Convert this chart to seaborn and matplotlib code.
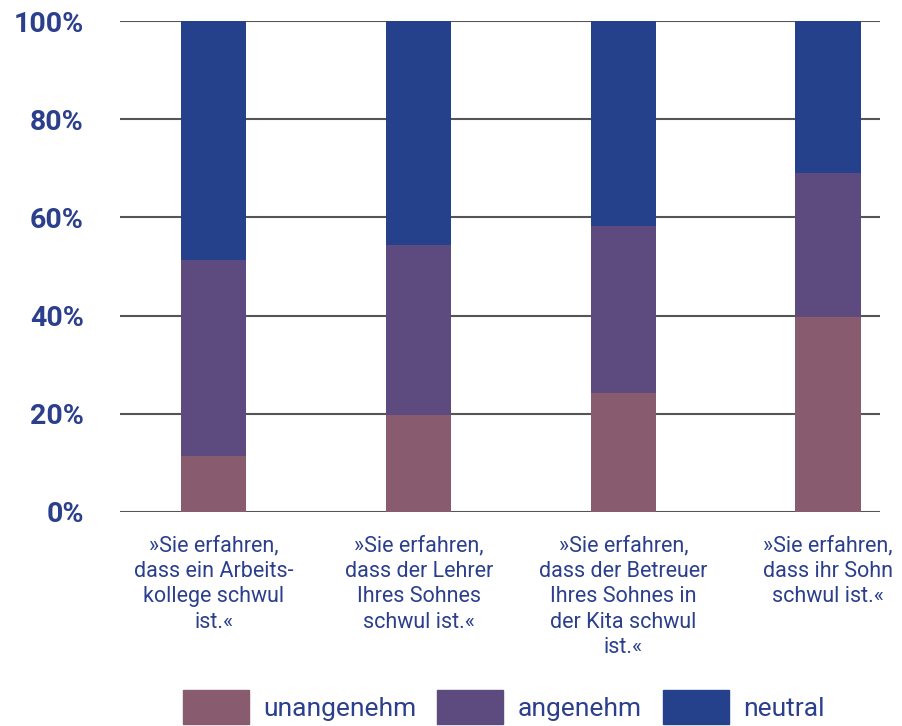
import matplotlib.pyplot as plt
import numpy as np
import pandas as pd
import seaborn as sns
from matplotlib.patches import Patch

kategorien = [
    "»Sie erfahren,\ndass ein Arbeits-\nkollege schwul\nist.«",
    "»Sie erfahren,\ndass der Lehrer\nIhres Sohnes\nschwul ist.«",
    "»Sie erfahren,\ndass der Betreuer\nIhres Sohnes in\nder Kita schwul\nist.«",
    "»Sie erfahren,\ndass ihr Sohn\nschwul ist.«",
]
unangenehm = [11.4, 19.7, 24.2, 39.8]
angenehm = [39.9, 34.7, 34.0, 29.2]
neutral = [48.7, 45.6, 41.8, 31.0]
y_ticks = [0, 20, 40, 60, 80, 100]

farben = {"unangenehm": "#895b6f", "angenehm": "#5d4a7f", "neutral": "#26418b"}
text_farbe = "#2b3f8c"

sns.set_style("white")
plt.rcParams["font.family"] = ["Roboto", "DejaVu Sans"]

df = pd.DataFrame({"kat": kategorien, "unangenehm": unangenehm,
                   "angenehm": angenehm, "neutral": neutral})
df["s1"] = df["unangenehm"]
df["s2"] = df["s1"] + df["angenehm"]
df["s3"] = df["s2"] + df["neutral"]

fig = plt.figure(figsize=(9.03, 7.26), dpi=100)
ax = fig.add_axes([120 / 903, 1 - 512 / 726, 760 / 903, 491 / 726])

# stacked: draw cumulative totals from back to front
for col, name in [("s3", "neutral"), ("s2", "angenehm"), ("s1", "unangenehm")]:
    sns.barplot(data=df, x="kat", y=col, color=farben[name], width=0.318,
                saturation=1, linewidth=0, ax=ax, zorder=3)

ax.set_ylim(0, 100)
ax.set_xlim(-0.459, 3.254)
ax.set_yticks(y_ticks)
ax.set_yticklabels([f"{t}%" for t in y_ticks])
ax.yaxis.grid(True, color="#555555", linewidth=1.5)
ax.set_axisbelow(True)
for s in ax.spines.values():
    s.set_visible(False)
ax.tick_params(axis="y", length=0, pad=26, labelsize=20.5, labelcolor=text_farbe)
for lab in ax.get_yticklabels():
    lab.set_fontweight("bold")
ax.tick_params(axis="x", length=0, pad=17, labelsize=15.5, labelcolor=text_farbe)
for lab in ax.get_xticklabels():
    lab.set_verticalalignment("top")
    lab.set_linespacing(1.27)
ax.set_xlabel("")
ax.set_ylabel("")

handles = [Patch(color=farben[n], label=n) for n in ["unangenehm", "angenehm", "neutral"]]
leg = fig.legend(handles=handles, loc="lower center", bbox_to_anchor=(0.558, -0.03),
                 ncol=3, frameon=False, fontsize=19, handlelength=2.5,
                 handleheight=1.6, handletextpad=0.55, columnspacing=0.8)
for t in leg.get_texts():
    t.set_color(text_farbe)

fig.savefig("out.png", dpi=100)
